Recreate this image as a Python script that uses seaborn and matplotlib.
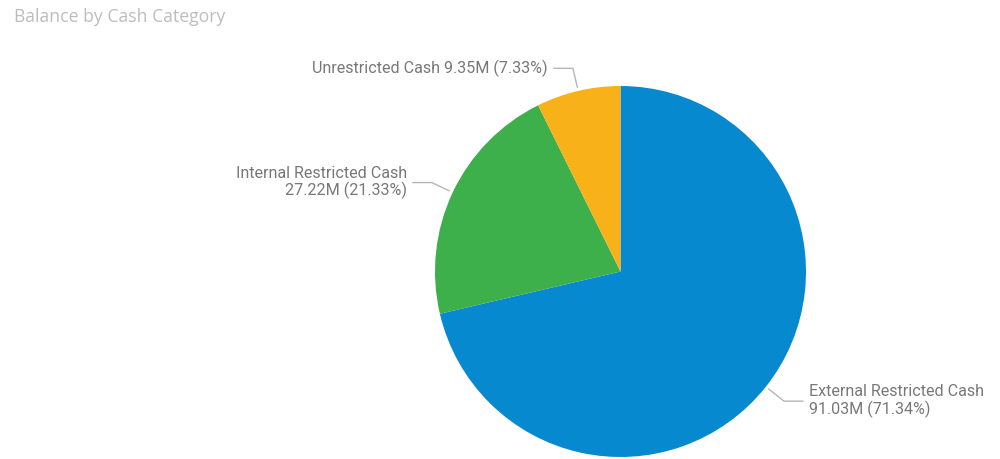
import numpy as np
import matplotlib
matplotlib.use("Agg")
import matplotlib.pyplot as plt
import seaborn as sns

# Cash balances by category (millions) and their shares of the total
categories = ["External Restricted Cash", "Internal Restricted Cash", "Unrestricted Cash"]
balances_m = [91.03, 27.22, 9.35]
shares_pct = [71.34, 21.33, 7.33]
slice_colors = ["#0789D0", "#3DAF4B", "#F9B11A"]

sns.set_theme(style="white")
plt.rcParams["font.family"] = ["Roboto", "DejaVu Sans"]

palette = sns.color_palette(slice_colors)

fig = plt.figure(figsize=(10, 4.59), dpi=100)
ax = fig.add_axes([0, 0, 1, 1])

cx, cy, r = 620.5, 187.5, 185.5
wedges, _ = ax.pie(balances_m, colors=palette, startangle=90, counterclock=False,
                   center=(cx, cy), radius=r,
                   wedgeprops=dict(linewidth=0))

ax.set_xlim(0, 1000)
ax.set_ylim(0, 459)
ax.set_aspect("equal")
ax.axis("off")

label_color = "#787878"
leader_color = "#B5B5B5"
one_line = [False, False, True]

for wedge, name, bal, pct, single in zip(wedges, categories, balances_m, shares_pct, one_line):
    theta = np.deg2rad((wedge.theta1 + wedge.theta2) / 2)
    ux, uy = np.cos(theta), np.sin(theta)
    ax0, ay0 = cx + r * 1.02 * ux, cy + r * 1.02 * uy
    ex, ey = cx + r * 1.125 * ux, cy + r * 1.125 * uy
    side = 1 if ux > 0 else -1
    hx = ex + side * 19
    ax.plot([ax0, ex, hx], [ay0, ey, ey], color=leader_color, lw=1.0,
            solid_joinstyle="miter")
    value = f"{bal:.2f}M ({pct:.2f}%)"
    text = f"{name} {value}" if single else f"{name}\n{value}"
    ax.text(hx + side * 6, ey, text, ha="left" if side > 0 else "right",
            va="center", color=label_color, fontsize=11.6, linespacing=1.1,
            multialignment="left" if side > 0 else "right")

fig.text(0.014, 0.962, "Balance by Cash Category", ha="left", va="center",
         color="#BDBDBD", fontsize=12.7, family=["Open Sans", "DejaVu Sans"])

fig.savefig("out.png", dpi=100, facecolor="white")
